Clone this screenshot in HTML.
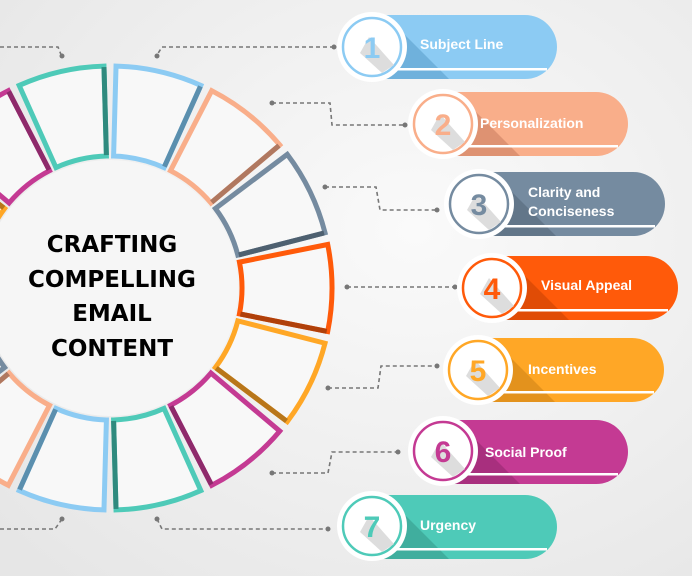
<!DOCTYPE html>
<html><head><meta charset="utf-8"><style>
html,body{margin:0;padding:0;background:#f0f0f0}
svg{display:block}
text{font-family:"Liberation Sans",sans-serif}
</style></head><body>
<svg width="692" height="576" viewBox="0 0 692 576" xmlns="http://www.w3.org/2000/svg">
<defs>
<radialGradient id="bg" cx="0.6" cy="0.4" r="0.8"><stop offset="0" stop-color="#fafafa"/><stop offset="1" stop-color="#e6e6e6"/></radialGradient>
</defs>
<rect width="692" height="576" fill="url(#bg)"/>
<g id="ring"></g>
<circle cx="110" cy="288" r="128" fill="#f6f6f6"/>
<g font-size="23" text-anchor="middle" fill="#000">
<text x="112" y="252" style="font-family:'DejaVu Sans',sans-serif;font-weight:900">CRAFTING</text>
<text x="112" y="287" style="font-family:'DejaVu Sans',sans-serif;font-weight:900">COMPELLING</text>
<text x="112" y="321" style="font-family:'DejaVu Sans',sans-serif;font-weight:900">EMAIL</text>
<text x="112" y="356" style="font-family:'DejaVu Sans',sans-serif;font-weight:900">CONTENT</text>
</g>
<g fill="none" stroke="#777" stroke-width="1.6" stroke-dasharray="4,3">
<path d="M334 47H162L157 55"/><path d="M0 47H58L62 57"/>
<path d="M272 103H330L332 125H405"/>
<path d="M325 187H376L380 210H437"/>
<path d="M347 287H455"/>
<path d="M328 388H378L381 366H437"/>
<path d="M272 473H328L332 452H398"/>
<path d="M157 519L162 529H328"/><path d="M0 529H55L62 519"/>
</g>
<g fill="#777">
<circle cx="334" cy="47" r="2.5"/><circle cx="157" cy="56" r="2.5"/><circle cx="62" cy="56" r="2.5"/>
<circle cx="272" cy="103" r="2.5"/><circle cx="405" cy="125" r="2.5"/>
<circle cx="325" cy="187" r="2.5"/><circle cx="437" cy="210" r="2.5"/>
<circle cx="347" cy="287" r="2.5"/><circle cx="455" cy="287" r="2.5"/>
<circle cx="328" cy="388" r="2.5"/><circle cx="437" cy="366" r="2.5"/>
<circle cx="272" cy="473" r="2.5"/><circle cx="398" cy="452" r="2.5"/>
<circle cx="157" cy="519" r="2.5"/><circle cx="62" cy="519" r="2.5"/><circle cx="328" cy="529" r="2.5"/>
</g>

<g>
<path d="M372 15H525A32 32 0 0 1 525 79H372Z" fill="#8ccbf3"/>
<path d="M392 22L449 79H380Z" fill="#6fb1dc"/>
<rect x="372" y="68" width="175" height="2.5" fill="#fff"/>
<circle cx="372" cy="47" r="35" fill="#fff"/>
<circle cx="372" cy="47" r="29" fill="#fff" stroke="#8ccbf3" stroke-width="2.5"/>
<path d="M369 37L394 65L382 73L360 53Z" fill="#ddd"/>
<text x="372" y="58" text-anchor="middle" font-size="30" font-weight="bold" fill="#8ccbf3">1</text>
<text x="420" y="49" font-size="14" font-weight="bold" fill="#fff">Subject Line</text>
</g>
<g>
<path d="M443 92H596A32 32 0 0 1 596 156H443Z" fill="#f9ae8a"/>
<path d="M463 99L520 156H451Z" fill="#de9272"/>
<rect x="443" y="145" width="175" height="2.5" fill="#fff"/>
<circle cx="443" cy="124" r="35" fill="#fff"/>
<circle cx="443" cy="124" r="29" fill="#fff" stroke="#f9ae8a" stroke-width="2.5"/>
<path d="M440 114L465 142L453 150L431 130Z" fill="#ddd"/>
<text x="443" y="135" text-anchor="middle" font-size="30" font-weight="bold" fill="#f9ae8a">2</text>
<text x="480" y="128" font-size="14" font-weight="bold" fill="#fff">Personalization</text>
</g>
<g>
<path d="M479 172H633A32 32 0 0 1 633 236H479Z" fill="#758ba0"/>
<path d="M499 179L556 236H487Z" fill="#627689"/>
<rect x="479" y="225" width="176" height="2.5" fill="#fff"/>
<circle cx="479" cy="204" r="35" fill="#fff"/>
<circle cx="479" cy="204" r="29" fill="#fff" stroke="#758ba0" stroke-width="2.5"/>
<path d="M476 194L501 222L489 230L467 210Z" fill="#ddd"/>
<text x="479" y="215" text-anchor="middle" font-size="30" font-weight="bold" fill="#758ba0">3</text>
<text x="528" y="197" font-size="14" font-weight="bold" fill="#fff">Clarity and</text>
<text x="528" y="216" font-size="14" font-weight="bold" fill="#fff">Conciseness</text>
</g>
<g>
<path d="M492 256H646A32 32 0 0 1 646 320H492Z" fill="#ff5a0a"/>
<path d="M512 263L569 320H500Z" fill="#e04c06"/>
<rect x="492" y="309" width="176" height="2.5" fill="#fff"/>
<circle cx="492" cy="288" r="35" fill="#fff"/>
<circle cx="492" cy="288" r="29" fill="#fff" stroke="#ff5a0a" stroke-width="2.5"/>
<path d="M489 278L514 306L502 314L480 294Z" fill="#ddd"/>
<text x="492" y="299" text-anchor="middle" font-size="30" font-weight="bold" fill="#ff5a0a">4</text>
<text x="541" y="290" font-size="14" font-weight="bold" fill="#fff">Visual Appeal</text>
</g>
<g>
<path d="M478 338H632A32 32 0 0 1 632 402H478Z" fill="#ffa726"/>
<path d="M498 345L555 402H486Z" fill="#e3921d"/>
<rect x="478" y="391" width="176" height="2.5" fill="#fff"/>
<circle cx="478" cy="370" r="35" fill="#fff"/>
<circle cx="478" cy="370" r="29" fill="#fff" stroke="#ffa726" stroke-width="2.5"/>
<path d="M475 360L500 388L488 396L466 376Z" fill="#ddd"/>
<text x="478" y="381" text-anchor="middle" font-size="30" font-weight="bold" fill="#ffa726">5</text>
<text x="528" y="374" font-size="14" font-weight="bold" fill="#fff">Incentives</text>
</g>
<g>
<path d="M443 420H596A32 32 0 0 1 596 484H443Z" fill="#c43a93"/>
<path d="M463 427L520 484H451Z" fill="#a82f7e"/>
<rect x="443" y="473" width="175" height="2.5" fill="#fff"/>
<circle cx="443" cy="451" r="35" fill="#fff"/>
<circle cx="443" cy="451" r="29" fill="#fff" stroke="#c43a93" stroke-width="2.5"/>
<path d="M440 441L465 469L453 477L431 457Z" fill="#ddd"/>
<text x="443" y="462" text-anchor="middle" font-size="30" font-weight="bold" fill="#c43a93">6</text>
<text x="485" y="457" font-size="14" font-weight="bold" fill="#fff">Social Proof</text>
</g>
<g>
<path d="M372 495H525A32 32 0 0 1 525 559H372Z" fill="#4ecab8"/>
<path d="M392 502L449 559H380Z" fill="#40ae9e"/>
<rect x="372" y="548" width="175" height="2.5" fill="#fff"/>
<circle cx="372" cy="526" r="35" fill="#fff"/>
<circle cx="372" cy="526" r="29" fill="#fff" stroke="#4ecab8" stroke-width="2.5"/>
<path d="M369 516L394 544L382 552L360 532Z" fill="#ddd"/>
<text x="372" y="537" text-anchor="middle" font-size="30" font-weight="bold" fill="#4ecab8">7</text>
<text x="420" y="530" font-size="14" font-weight="bold" fill="#fff">Urgency</text>
</g>

<script>
const NS="http://www.w3.org/2000/svg";
const ring=document.getElementById('ring');
const cx=110,cy=288,ri=132,ro=222,step=360/14,half=11.3;
const cols=['#ff5a0a','#ffa726','#c43a93','#4ecab8','#8ccbf3','#f9ae8a','#758ba0','#758ba0','#ffa726','#c43a93','#4ecab8','#8ccbf3','#f9ae8a','#758ba0'];
const dark=['#b0400a','#b8761a','#8e2a6b','#2f8a7e','#5b8fae','#b07860','#4e6070','#4e6070','#b8761a','#8e2a6b','#2f8a7e','#5b8fae','#b07860','#4e6070'];
function pt(r,a){a=a*Math.PI/180;return [cx+r*Math.cos(a),cy+r*Math.sin(a)];}
for(let i=0;i<14;i++){
 const a=i*step;const a1=a-half,a2=a+half;
 const p1=pt(ri,a1),p2=pt(ro,a1),p3=pt(ro,a2),p4=pt(ri,a2);
 const d=`M${p1}L${p2}A${ro},${ro} 0 0 1 ${p3}L${p4}A${ri},${ri} 0 0 0 ${p1}Z`;
 const e=document.createElementNS(NS,'path');e.setAttribute('d',d);e.setAttribute('fill','#f8f8f8');e.setAttribute('stroke',cols[i]);e.setAttribute('stroke-width','5');ring.appendChild(e);
 const e2=document.createElementNS(NS,'path');
 e2.setAttribute('d',`M${pt(ro-1,a2)}L${pt(ri+1,a2)}`);e2.setAttribute('fill','none');e2.setAttribute('stroke',dark[i]);e2.setAttribute('stroke-width','5');ring.appendChild(e2);
}
</script>
</svg>
</body></html>
